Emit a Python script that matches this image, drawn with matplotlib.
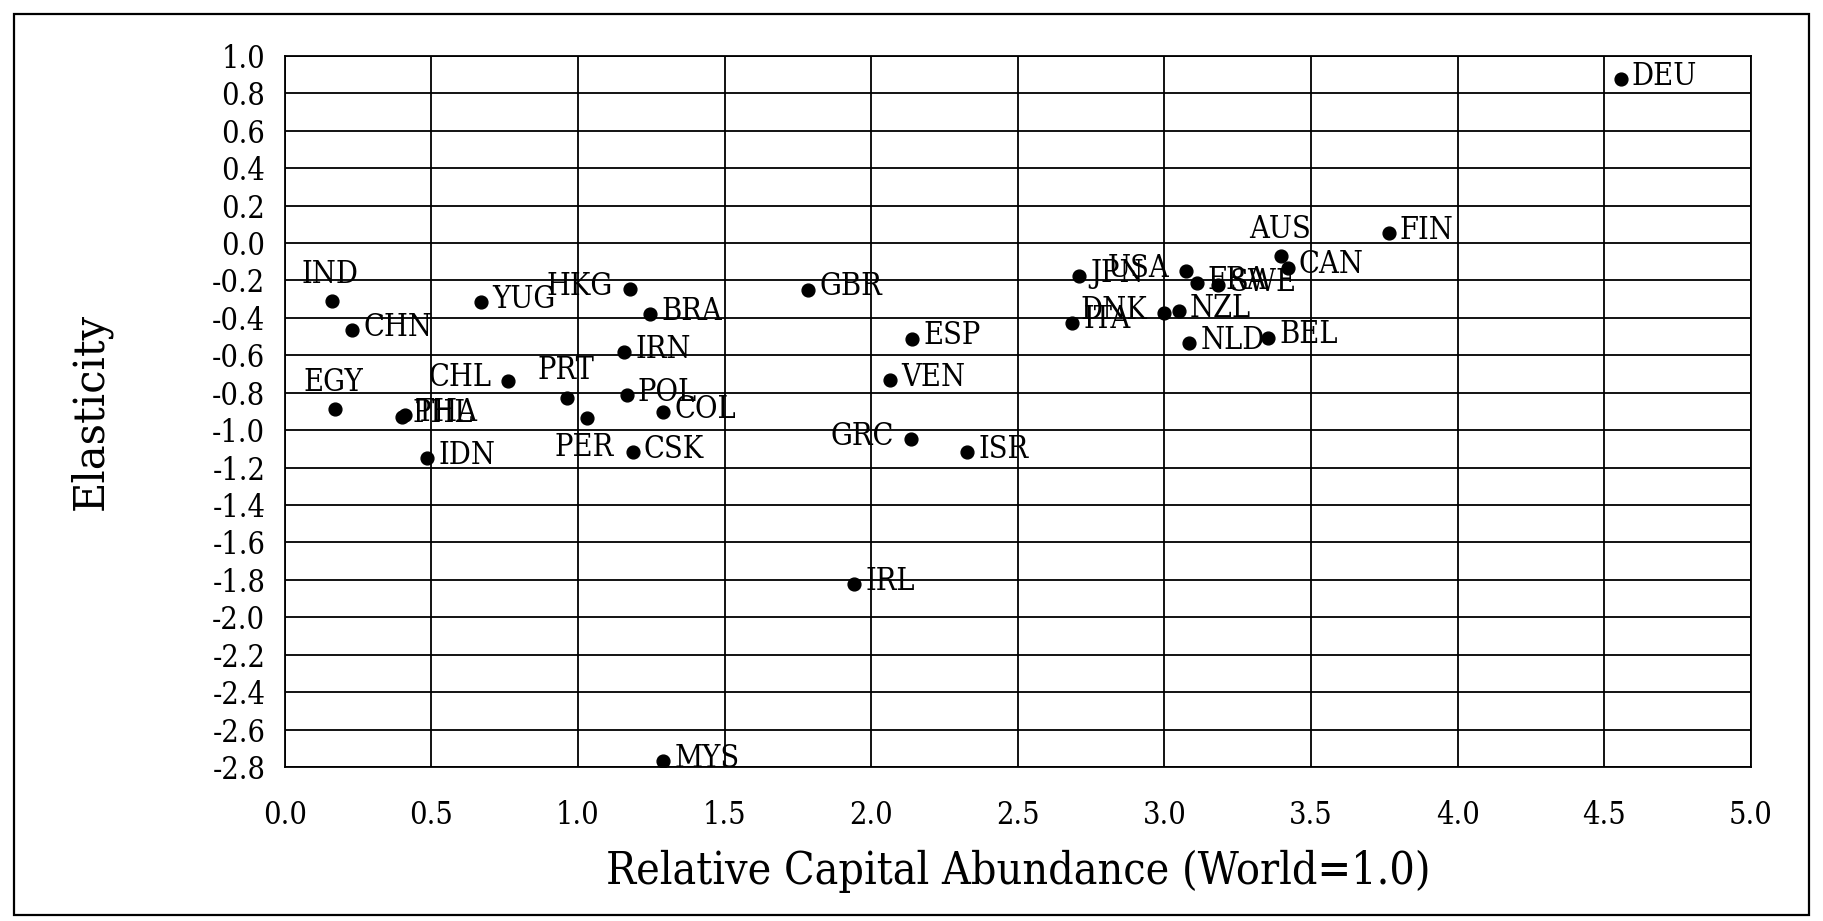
import numpy as np
import matplotlib.pyplot as plt
from matplotlib.patches import Rectangle

plt.rcParams['axes.unicode_minus'] = False
plt.rcParams['font.family'] = 'DejaVu Serif'

countries = ['DEU','FIN','AUS','CAN','USA','JPN','FRA','SWE','ITA','DNK','NZL','NLD','BEL',
             'GBR','ESP','VEN','GRC','ISR','IRL','MYS','IND','CHN','EGY','PHL','THA','IDN',
             'YUG','CHL','HKG','BRA','IRN','PRT','POL','PER','COL','CSK']
capital = [4.556, 3.765, 3.398, 3.420, 3.074, 2.709, 3.110, 3.183, 2.686, 2.998, 3.048, 3.084, 3.354,
           1.785, 2.140, 2.064, 2.135, 2.327, 1.942, 1.291, 0.160, 0.229, 0.172, 0.399, 0.410, 0.485,
           0.669, 0.762, 1.177, 1.245, 1.158, 0.963, 1.166, 1.030, 1.291, 1.186]
elasticity = [0.875, 0.051, -0.069, -0.132, -0.150, -0.177, -0.214, -0.225, -0.426, -0.376, -0.363, -0.536, -0.506,
              -0.250, -0.511, -0.734, -1.047, -1.119, -1.824, -2.768, -0.309, -0.467, -0.887, -0.928, -0.918, -1.150,
              -0.317, -0.736, -0.246, -0.381, -0.584, -0.826, -0.814, -0.934, -0.905, -1.119]

# where each data label sits relative to its point (default right)
side = {'AUS':'above','IND':'above','EGY':'above','PRT':'above','PER':'below',
        'USA':'left','DNK':'left','GRC':'left','CHL':'left','HKG':'left'}

fig = plt.figure(figsize=(18.23,9.21),dpi=100)
ax = fig.add_axes([0.1562,0.1672,0.8043,0.7722])
fig.patches.append(Rectangle((14/1823,6/921),1795/1823,901/921,transform=fig.transFigure,
                             fill=False,edgecolor='k',linewidth=1.6))

ax.scatter(capital,elasticity,s=85,color='k',zorder=5)

for c,xv,yv in zip(countries,capital,elasticity):
    pos = side.get(c,'right')
    if pos == 'right':
        off,ha,va = (8,2),'left','center'
    elif pos == 'left':
        off,ha,va = (-12,2),'right','center'
    elif pos == 'above':
        off,ha,va = (-1,8),'center','bottom'
    else:
        off,ha,va = (-2,-10),'center','top'
    ax.annotate(c,(xv,yv),xytext=off,textcoords='offset points',ha=ha,va=va,
                fontsize=22,fontstretch='condensed',zorder=6)

ax.set_xlim(0,5)
ax.set_ylim(-2.8,1.0)
ax.set_xticks(np.arange(0,5.01,0.5))
ax.set_yticks(np.arange(-2.8,1.01,0.2))
ax.set_xticklabels(['%.1f' % v for v in np.arange(0,5.01,0.5)],fontsize=22,fontstretch='condensed')
ax.set_yticklabels(['%.1f' % v for v in np.arange(-2.8,1.01,0.2)],fontsize=22,fontstretch='condensed')
ax.tick_params(length=0)
ax.tick_params(axis='x',pad=24)
ax.tick_params(axis='y',pad=14)
ax.grid(color='k',linewidth=1.3)
for s in ax.spines.values():
    s.set_linewidth(1.3)
ax.set_axisbelow(True)

ax.set_xlabel('Relative Capital Abundance (World=1.0)',fontsize=32,fontstretch='condensed',labelpad=13)
ax.set_ylabel('Elasticity',fontsize=30,labelpad=72)

fig.savefig('out.png',dpi=100)
